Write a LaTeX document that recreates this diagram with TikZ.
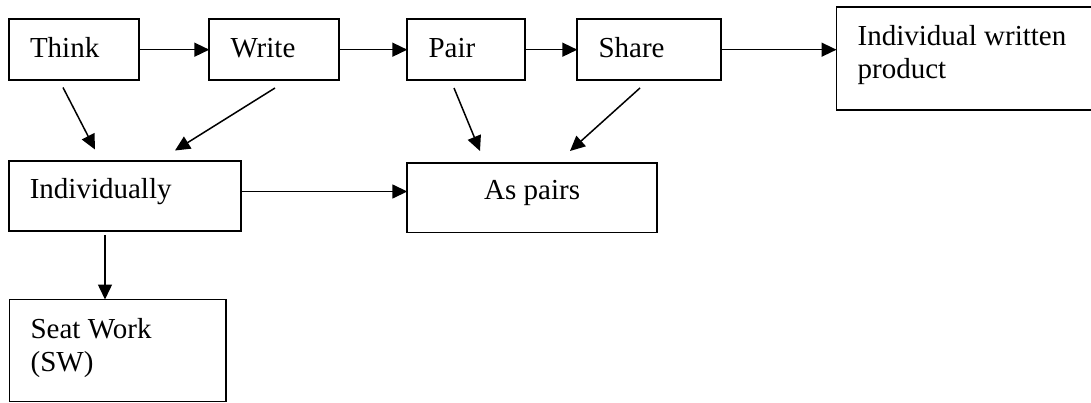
\documentclass[tikz,border=0pt]{standalone}
\usepackage{fontspec}
\setmainfont{Liberation Serif}
\usetikzlibrary{arrows.meta,fit,calc}
\tikzset{
  boxshape/.style={draw=black, line width=1.8pt, inner sep=0pt, outer sep=0pt, rectangle},
  boxtext/.style={anchor=base west, inner sep=0pt, font=\fontsize{29}{33}\selectfont, align=left},
  ctext/.style={anchor=base, inner sep=0pt, font=\fontsize{29}{33}\selectfont},
  arr/.style={line width=1.5pt, -{Triangle[length=15pt,width=14pt]}},
}
\begin{document}
\begin{tikzpicture}[x=1pt,y=-1pt]
\useasboundingbox (0,0) rectangle (1091,403);
% boxes
\node[boxshape, fit={(8.8,19.2) (138.6,80.2)}] (think) {};
\node[boxshape, fit={(209.3,19.2) (338.8,80.2)}] (write) {};
\node[boxshape, fit={(407.3,19.2) (525,80.2)}] (pair) {};
\node[boxshape, fit={(577.3,19.2) (720.7,80.2)}] (share) {};
\node[boxshape, fit={(836.5,7.2) (1105,110)}] (iwp) {};
\node[boxshape, fit={(8.6,161) (241,231)}] (indiv) {};
\node[boxshape, fit={(407.3,163) (657,232.5)}] (aspairs) {};
\node[boxshape, fit={(9.4,299.5) (226,401.5)}] (seat) {};
% texts
\node[boxtext] (tthink) at ($(think.north west)+(21,38)$) {Think};
\node[boxtext] (twrite) at ($(write.north west)+(21,38)$) {Write};
\node[boxtext] (tpair) at ($(pair.north west)+(21,38)$) {Pair};
\node[boxtext] (tshare) at ($(share.north west)+(21,38)$) {Share};
\node[boxtext] (tiwp) at ($(iwp.north west)+(21,71)$) {Individual written\\product};
\node[boxtext] (tindiv) at ($(indiv.north west)+(21,38)$) {Individually};
\node[ctext] (taspairs) at ($(aspairs.north)+(0,37)$) {As pairs};
\node[boxtext] (tseat) at ($(seat.north west)+(21,72)$) {Seat Work\\(SW)};
% connector end points
\coordinate (a1) at (63,87.5);
\coordinate (a2) at (95,149.5);
\coordinate (b1) at (275,88);
\coordinate (b2) at (175,150.5);
\coordinate (c1) at (454,88);
\coordinate (c2) at (480,151);
\coordinate (d1) at (640,88);
\coordinate (d2) at (570,151);
\coordinate (e1) at ($(indiv.east)+(0,-4.5)$);
\coordinate (e2) at (aspairs.west |- e1);
\coordinate (f1) at (105,235);
\coordinate (f2) at (f1 |- seat.north);
\coordinate (g2) at (iwp.west |- share.east);
% connectors
\draw[arr] (think) -- (write);
\draw[arr] (write) -- (pair);
\draw[arr] (pair) -- (share);
\draw[arr] (share.east) -- (g2);
\draw[arr] (a1) -- (a2);
\draw[arr] (b1) -- (b2);
\draw[arr] (c1) -- (c2);
\draw[arr] (d1) -- (d2);
\draw[arr] (e1) -- (e2);
\draw[arr] (f1) -- (f2);
\end{tikzpicture}
\end{document}
